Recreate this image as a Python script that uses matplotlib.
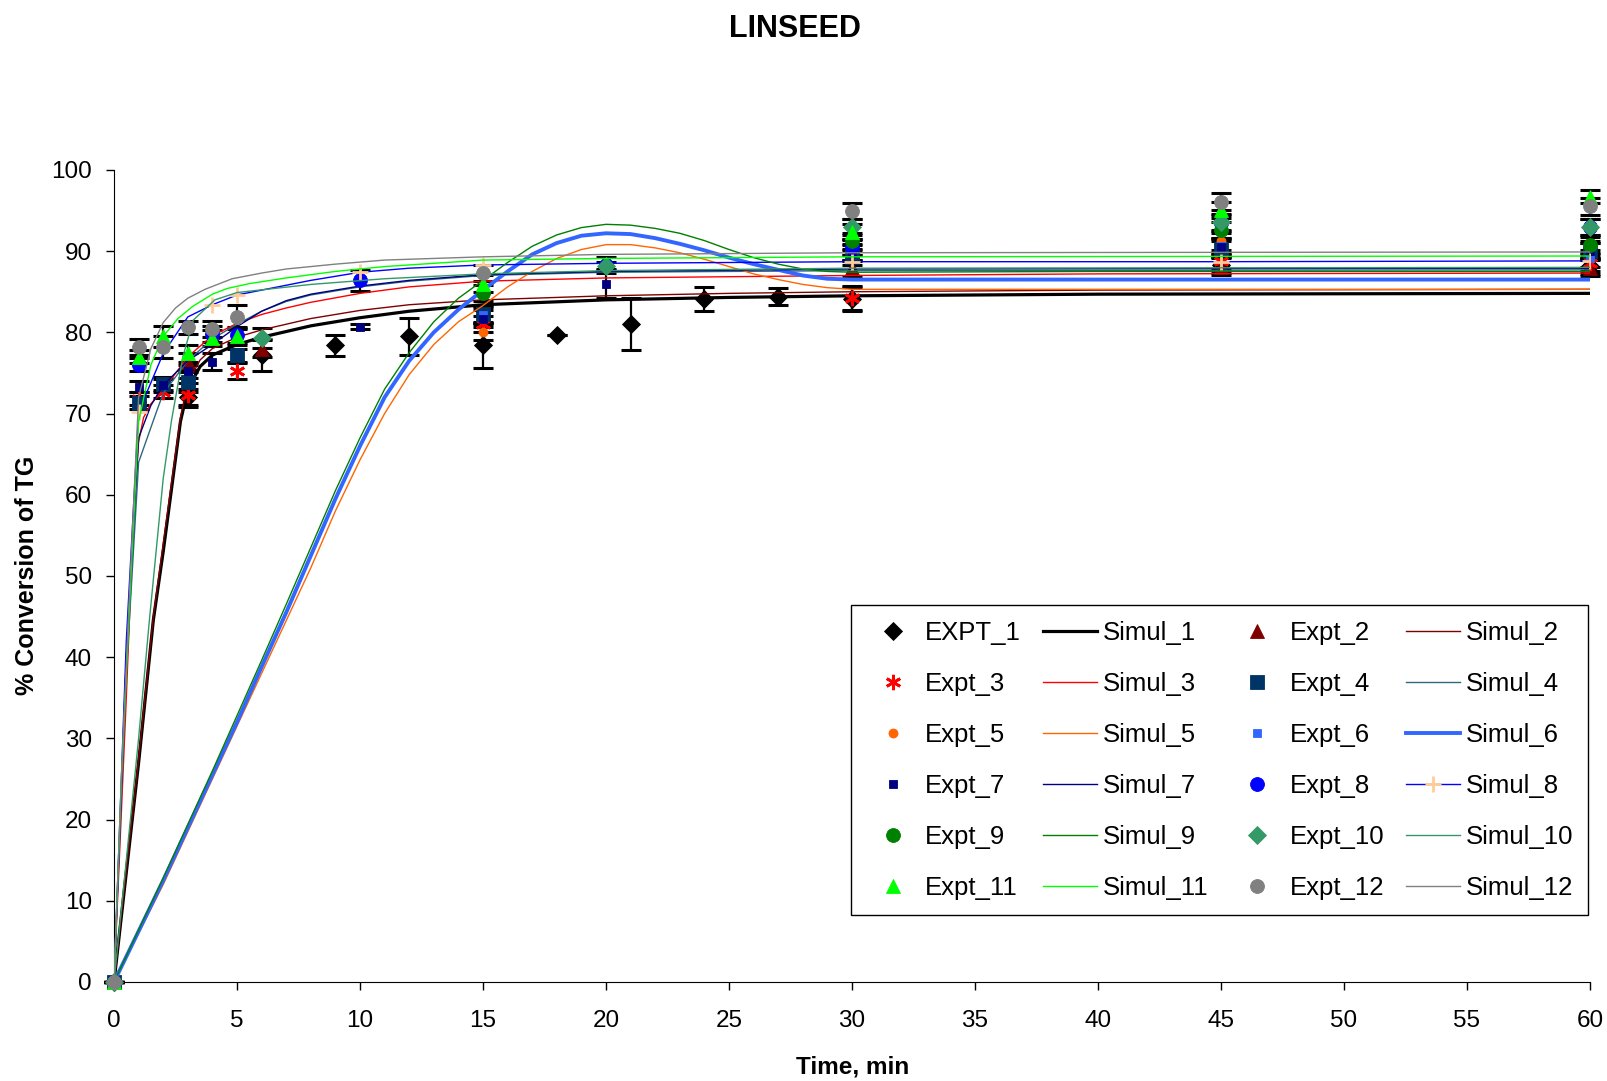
import matplotlib
matplotlib.use('Agg')
import matplotlib.pyplot as plt

plt.rcParams['font.family'] = ['Liberation Sans', 'DejaVu Sans']

# ---- experimental points: time (min), % conversion, error ----
e1_t = [0, 3, 6, 9, 12, 15, 18, 21, 24, 27, 30, 45, 60]
e1_y = [0, 72.0, 77.2, 78.4, 79.5, 78.4, 79.7, 81.0, 84.1, 84.4, 84.1, 88.3, 88.2]
e1_err = [0, 1, 2.0, 1.3, 2.3, 2.8, 0, 3.2, 1.5, 1.0, 1.5, 1, 1]

e2_t = [0, 3, 6, 30, 45, 60]
e2_y = [0, 76.4, 78.0, 87.9, 88.1, 87.9]
e2_err = [0, 1, 1, 1, 1, 1]

e3_t = [0, 1, 2, 3, 5, 15, 30, 45, 60]
e3_y = [0, 71.8, 72.7, 72.3, 75.2, 81.0, 84.2, 88.8, 88.6]
e3_err = [0, 0.8, 0.8, 1.5, 1.0, 1.0, 1.5, 1, 1]

e4_t = [0, 1, 2, 3, 5, 15, 30, 45, 60]
e4_y = [0, 71.3, 73.7, 73.9, 77.2, 82.3, 89.3, 90.3, 90.0]
e4_err = [0, 0.8, 0.8, 1.2, 0.8, 1, 1, 1, 1]

e5_t = [0, 15, 30, 45, 60]
e5_y = [0, 80.0, 89.9, 91.2, 90.3]
e5_err = [0, 1, 1, 1, 1]

e6_t = [0, 15, 30, 45, 60]
e6_y = [0, 82.1, 90.5, 90.6, 89.1]
e6_err = [0, 1, 1, 1, 1]

e7_t = [0, 1, 2, 3, 4, 10, 15, 20, 30, 45, 60]
e7_y = [0, 73.3, 73.5, 75.2, 76.4, 80.7, 81.7, 86.0, 89.8, 90.5, 90.0]
e7_err = [0, 0.7, 0.8, 0.8, 1.0, 0.3, 1, 1.8, 1, 1, 1]

e8_t = [0, 1, 4, 5, 10, 20, 30, 45, 60]
e8_y = [0, 76.0, 79.8, 79.7, 86.4, 88.3, 90.5, 93.5, 93.0]
e8_err = [0, 0.8, 1, 1, 1.3, 1, 1, 1, 1]

e9_t = [0, 15, 30, 45, 60]
e9_y = [0, 84.8, 91.2, 92.6, 90.8]
e9_err = [0, 1, 1, 1, 1]

e10_t = [0, 6, 20, 30, 45, 60]
e10_y = [0, 79.3, 88.2, 93.0, 93.6, 93.0]
e10_err = [0, 1.2, 0.5, 1, 1, 1]

e11_t = [0, 1, 2, 3, 4, 5, 15, 30, 45, 60]
e11_y = [0, 77.0, 79.5, 77.4, 79.3, 79.5, 86.0, 92.4, 95.1, 96.7]
e11_err = [0, 0.8, 1.3, 1, 1, 1, 1, 1, 1, 0.8]

e12_t = [0, 1, 2, 3, 4, 5, 15, 30, 45, 60]
e12_y = [0, 78.2, 78.2, 80.6, 80.4, 81.9, 87.3, 94.9, 96.1, 95.5]
e12_err = [0, 1, 1.3, 0.8, 1, 1.5, 1, 1, 1, 1]

# ---- simulated curves ----
s1_t = [0, 1, 1.6, 2, 2.7, 3, 3.5, 4, 5, 6, 7, 8, 10, 12, 15, 20, 25, 30, 40, 60]
s1_y = [0, 27, 44.6, 53, 69, 73, 75.8, 77.2, 78.5, 79.4, 80.1, 80.8, 81.8, 82.6, 83.4, 84.0, 84.3, 84.5, 84.7, 84.8]

s2_t = [0, 1, 1.6, 2, 2.7, 3, 3.5, 4, 5, 6, 7, 8, 10, 12, 15, 20, 25, 30, 40, 60]
s2_y = [0, 27.5, 45, 54, 69.5, 73.8, 76.6, 78, 79.4, 80.3, 81.0, 81.7, 82.7, 83.4, 84.0, 84.5, 84.8, 85.0, 85.2, 85.3]

s3_t = [0, 0.5, 0.8, 1, 1.2, 1.5, 2, 3, 4, 5, 6, 7, 8, 10, 12, 15, 20, 30, 40, 60]
s3_y = [0, 35, 58, 66.5, 69.5, 71.2, 72.9, 77, 79.6, 81.1, 82.2, 83.0, 83.7, 84.8, 85.6, 86.3, 86.7, 87.0, 87.2, 87.3]

s4_t = [0, 0.5, 1, 1.7, 2, 3, 4, 5, 6, 7, 8, 10, 12, 15, 20, 30, 60]
s4_y = [0, 38, 64, 70, 72.5, 76.5, 79.2, 81.0, 82.6, 83.8, 84.6, 85.6, 86.3, 87.0, 87.4, 87.6, 87.7]

s5_t = [0, 2, 4, 5, 6, 7, 8, 9, 10, 11, 12, 13, 14, 15, 16, 17, 18, 19, 20, 21, 22, 23, 24, 25, 26, 27, 28, 29, 30, 40, 60]
s5_y = [0, 12, 25, 31.5, 38, 44.5, 51, 58, 64.3, 70, 74.8, 78.5, 81.3, 83.3, 85.6, 87.5, 89.1, 90.2, 90.8, 90.8, 90.4, 89.8, 89.0, 88.1, 87.2, 86.5, 85.9, 85.5, 85.3, 85.3, 85.3]

s6_t = [0, 2, 4, 5, 6, 7, 8, 9, 10, 11, 12, 13, 14, 15, 16, 17, 18, 19, 20, 21, 22, 23, 24, 25, 26, 27, 28, 29, 30, 40, 60]
s6_y = [0, 12.5, 25.5, 32, 38.8, 45.5, 52.5, 59.5, 66, 72, 76.5, 80, 82.8, 85.2, 87.5, 89.6, 91, 91.9, 92.2, 92.1, 91.6, 90.9, 90.1, 89.2, 88.4, 87.7, 87.0, 86.6, 86.5, 86.5, 86.5]

s7_t = [0, 0.5, 1, 1.5, 2, 3, 4, 5, 6, 7, 8, 10, 12, 15, 20, 30, 60]
s7_y = [0, 40, 67, 71, 73.5, 76.5, 78.5, 80.7, 82.6, 83.9, 84.7, 85.7, 86.4, 87.1, 87.5, 87.8, 87.9]

s8_t = [0, 0.5, 1, 2, 3, 4, 5, 6.5, 8, 10, 12, 15, 20, 30, 45, 60]
s8_y = [0, 42, 70.2, 77.4, 81.9, 83.4, 84.6, 85.5, 86.4, 87.4, 87.9, 88.3, 88.5, 88.7, 88.7, 88.8]
s8_marks = [2, 5, 6, 9, 11, 13, 14, 15]

s9_t = [0, 2, 4, 5, 6, 7, 8, 9, 10, 11, 12, 13, 14, 15, 16, 17, 18, 19, 20, 21, 22, 23, 24, 25, 26, 27, 28, 29, 30, 40, 60]
s9_y = [0, 12.8, 26, 32.8, 39.6, 46.5, 53.5, 60.5, 67, 73, 77.5, 81.3, 84.2, 86.4, 88.6, 90.6, 92, 92.9, 93.3, 93.2, 92.8, 92.2, 91.3, 90.2, 89.2, 88.4, 87.8, 87.5, 87.4, 87.5, 87.5]

s10_t = [0, 0.5, 1, 1.44, 2, 2.34, 2.8, 3.22, 4.1, 5, 6.5, 8, 11, 15, 20, 30, 60]
s10_y = [0, 15, 30, 44.6, 62, 69.2, 77, 81.5, 84.0, 84.9, 85.4, 85.9, 86.6, 87.2, 87.6, 87.9, 88.0]

s11_t = [0, 0.3, 0.6, 1, 1.5, 2, 2.6, 3.2, 4, 4.6, 5.5, 7, 9, 11, 15, 20, 30, 60]
s11_y = [0, 25, 44.5, 69, 76, 79.5, 81.7, 83.2, 84.7, 85.4, 86.0, 86.7, 87.5, 88.1, 88.9, 89.1, 89.3, 89.4]

s12_t = [0, 0.3, 0.6, 1, 1.5, 2, 2.5, 3, 3.7, 4.8, 6, 7, 9, 11, 15, 20, 30, 60]
s12_y = [0, 25, 46, 72, 78, 81.2, 83.0, 84.2, 85.3, 86.6, 87.3, 87.8, 88.4, 88.9, 89.3, 89.6, 89.8, 89.9]

expts = [
    ('EXPT_1', e1_t, e1_y, e1_err, 'D', '#000000', 9),
    ('Expt_2', e2_t, e2_y, e2_err, '^', '#800000', 10),
    ('Expt_3', e3_t, e3_y, e3_err, (6, 2, 0), '#FF0000', 11),
    ('Expt_4', e4_t, e4_y, e4_err, 's', '#003366', 10),
    ('Expt_5', e5_t, e5_y, e5_err, 'o', '#FF6600', 6.5),
    ('Expt_6', e6_t, e6_y, e6_err, 's', '#3366FF', 6),
    ('Expt_7', e7_t, e7_y, e7_err, 's', '#000080', 6),
    ('Expt_8', e8_t, e8_y, e8_err, 'o', '#0000FF', 10),
    ('Expt_9', e9_t, e9_y, e9_err, 'o', '#008000', 10),
    ('Expt_10', e10_t, e10_y, e10_err, 'D', '#339966', 9),
    ('Expt_11', e11_t, e11_y, e11_err, '^', '#00FF00', 10),
    ('Expt_12', e12_t, e12_y, e12_err, 'o', '#808080', 10),
]
sims = [
    ('Simul_1', s1_t, s1_y, '#000000', 2.3),
    ('Simul_2', s2_t, s2_y, '#800000', 1.0),
    ('Simul_3', s3_t, s3_y, '#FF0000', 1.0),
    ('Simul_4', s4_t, s4_y, '#2F6680', 1.0),
    ('Simul_5', s5_t, s5_y, '#FF6600', 1.0),
    ('Simul_6', s6_t, s6_y, '#3366FF', 2.8),
    ('Simul_7', s7_t, s7_y, '#000080', 1.0),
    ('Simul_8', s8_t, s8_y, '#0000FF', 1.0),
    ('Simul_9', s9_t, s9_y, '#008000', 1.0),
    ('Simul_10', s10_t, s10_y, '#339966', 1.0),
    ('Simul_11', s11_t, s11_y, '#00FF00', 1.0),
    ('Simul_12', s12_t, s12_y, '#808080', 1.0),
]

fig = plt.figure(figsize=(16.08, 10.81), dpi=100)
ax = fig.add_axes([0.0709, 0.0916, 0.9179, 0.7512])

handles = []
for (lab, t, y, err, mk, col, ms), (slab, st, sy, scol, slw) in zip(expts, sims):
    ax.errorbar(t, y, yerr=err, fmt='none', ecolor='black', elinewidth=1.6,
                capsize=7, capthick=2.2, clip_on=False, zorder=2)
    extra = dict(markeredgewidth=2) if isinstance(mk, tuple) else dict(markeredgewidth=0.6)
    h, = ax.plot(t, y, linestyle='none', marker=mk, color=col, markersize=ms,
                 markeredgecolor=col, clip_on=False, zorder=3, label=lab, **extra)
    handles.append(h)
    if slab == 'Simul_8':
        sh, = ax.plot(st, sy, color=scol, lw=slw, marker='+', markersize=11,
                      markeredgewidth=2, markeredgecolor='#FFCC99',
                      markevery=s8_marks, zorder=3, label=slab)
    else:
        sh, = ax.plot(st, sy, color=scol, lw=slw, zorder=3, label=slab)
    handles.append(sh)

ax.set_xlim(0, 60)
ax.set_ylim(0, 100)
ax.set_xticks(range(0, 61, 5))
ax.set_yticks(range(0, 101, 10))
ax.spines['top'].set_visible(False)
ax.spines['right'].set_visible(False)
ax.tick_params(direction='out', length=6, width=1, labelsize=17.5)
ax.tick_params(axis='x', pad=14)
ax.tick_params(axis='y', pad=10)

# legend reads row by row, matplotlib fills column by column
ncol, nrow = 4, 6
order = [handles[r * ncol + c] for c in range(ncol) for r in range(nrow)]
leg = ax.legend(handles=order, labels=[h.get_label() for h in order], ncol=ncol,
                loc='upper left', bbox_to_anchor=(0.499, 0.464),
                fontsize=18.5, frameon=True, fancybox=False, edgecolor='black',
                framealpha=1, borderpad=0.6, labelspacing=1.05,
                handlelength=2.1, handletextpad=0.2, columnspacing=0.87,
                borderaxespad=0)
leg.get_frame().set_linewidth(1.0)

fig.text(0.4944, 0.973, 'LINSEED', ha='center', va='center',
         fontsize=22, fontweight='bold')
fig.text(0.017, 0.468, '% Conversion of TG', ha='center', va='center',
         rotation=90, fontsize=18, fontweight='bold')
fig.text(0.530, 0.0125, 'Time, min', ha='center', va='center',
         fontsize=17.5, fontweight='bold')

fig.savefig('out.png', dpi=100)
